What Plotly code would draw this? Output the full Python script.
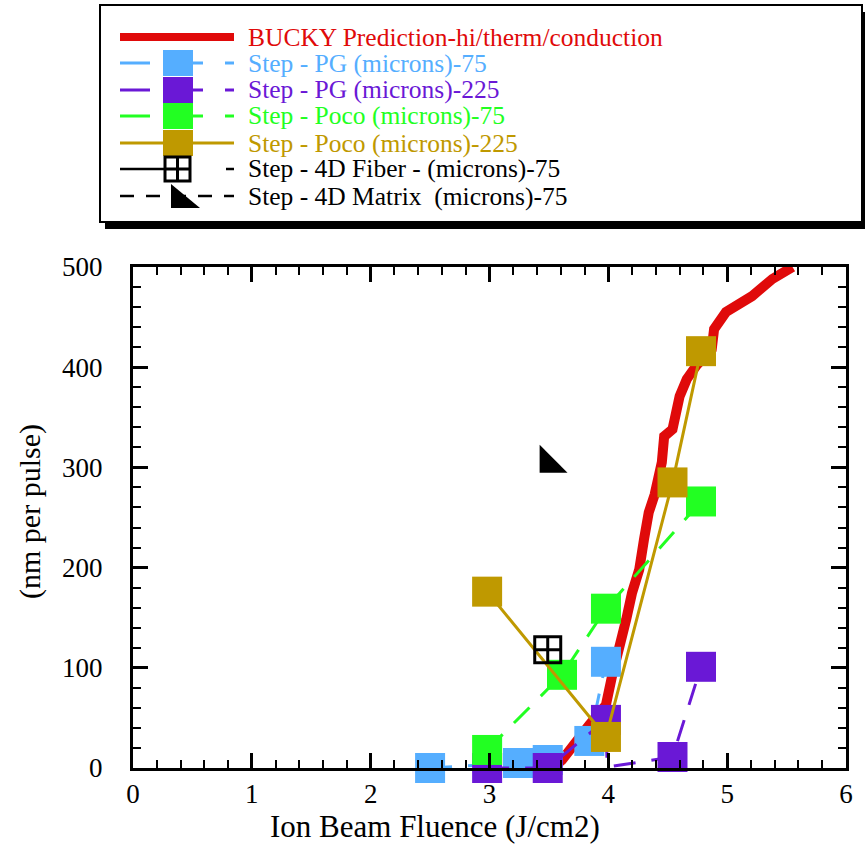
import plotly.graph_objects as go

# ---------------- data ----------------
bucky_x = [3.53, 3.61, 3.84, 3.98, 4.03, 4.09, 4.15, 4.20, 4.26, 4.30, 4.34, 4.39,
           4.45, 4.47, 4.54, 4.60, 4.66, 4.75, 4.87, 4.89, 4.99, 5.21, 5.38, 5.55]
bucky_y = [0, 8, 43, 63, 91, 125, 148, 175, 198, 228, 255, 273,
           305, 331, 338, 371, 388, 403, 418, 438, 455, 471, 488, 500]

pg75_x = [2.50, 3.24, 3.49, 3.84, 3.98]
pg75_y = [0, 5, 8, 27, 106]

pg225_x = [2.98, 3.49, 3.98, 4.54, 4.78]
pg225_y = [0, 0, 48, 11, 101]
pg225_line_x = [2.98, 3.49, 3.98, 3.99, 4.54, 4.78]
pg225_line_y = [0, 0, 48, 1, 11, 101]

poco75_x = [2.98, 3.61, 3.98, 4.78]
poco75_y = [18, 93, 159, 266]

poco225_x = [2.98, 3.98, 4.54, 4.78]
poco225_y = [176, 31, 285, 416]

fiber_x = [3.49]
fiber_y = [118]

matrix_x = [3.50]
matrix_y = [304]

legend_labels = [
    "BUCKY Prediction-hi/therm/conduction",
    "Step - PG (microns)-75",
    "Step - PG (microns)-225",
    "Step - Poco (microns)-75",
    "Step - Poco (microns)-225",
    "Step - 4D Fiber - (microns)-75",
    "Step - 4D Matrix  (microns)-75",
]

x_title = "Ion Beam Fluence (J/cm2)"
y_title = "(nm per pulse)"

# ---------------- style ----------------
W, H = 865, 845
FONT = "Liberation Serif"
RED = "#E00A0A"
BLUE = "#55AEFF"
PURPLE = "#6A18D6"
GREEN = "#22FF22"
GOLD = "#BF9900"
BLACK = "#000000"
COLORS = [RED, BLUE, PURPLE, GREEN, GOLD, BLACK, BLACK]

L, R, T, B = 133, 846, 267, 768  # plot area in pixels


def X(px):
    return px / W


def Y(py):
    return 1 - py / H


fig = go.Figure()

DASH = "22px,16px"
MS = 30

fig.add_trace(go.Scatter(x=bucky_x, y=bucky_y, mode="lines",
                         line=dict(color=RED, width=10), cliponaxis=True))
fig.add_trace(go.Scatter(x=pg75_x, y=pg75_y, mode="lines+markers",
                         line=dict(color=BLUE, width=3, dash=DASH),
                         marker=dict(symbol="square", size=MS, color=BLUE, line=dict(width=0)),
                         cliponaxis=False))
fig.add_trace(go.Scatter(x=pg225_line_x, y=pg225_line_y, mode="lines",
                         line=dict(color=PURPLE, width=3, dash=DASH), cliponaxis=False))
fig.add_trace(go.Scatter(x=pg225_x, y=pg225_y, mode="markers",
                         marker=dict(symbol="square", size=MS, color=PURPLE, line=dict(width=0)),
                         cliponaxis=False))
fig.add_trace(go.Scatter(x=poco75_x, y=poco75_y, mode="lines+markers",
                         line=dict(color=GREEN, width=3, dash=DASH),
                         marker=dict(symbol="square", size=MS, color=GREEN, line=dict(width=0)),
                         cliponaxis=False))
fig.add_trace(go.Scatter(x=poco225_x, y=poco225_y, mode="lines+markers",
                         line=dict(color=GOLD, width=3),
                         marker=dict(symbol="square", size=MS, color=GOLD, line=dict(width=0)),
                         cliponaxis=False))
fig.add_trace(go.Scatter(x=fiber_x, y=fiber_y, mode="markers",
                         marker=dict(symbol="square-cross-open", size=26, color=BLACK,
                                     line=dict(width=3, color=BLACK)),
                         cliponaxis=False))
fig.add_trace(go.Scatter(x=matrix_x, y=matrix_y, mode="markers",
                         marker=dict(symbol="triangle-sw", size=31, color=BLACK, line=dict(width=0)),
                         cliponaxis=False))

axis_common = dict(
    showgrid=False, zeroline=False, showline=True, linewidth=3, linecolor=BLACK,
    mirror="allticks", ticks="inside", ticklen=15, tickwidth=2.5, tickcolor=BLACK,
    tickfont=dict(family=FONT, size=27, color=BLACK), automargin=False,
)

fig.update_layout(
    template="none",
    width=W, height=H, autosize=False,
    margin=dict(l=0, r=0, t=0, b=0, pad=0),
    paper_bgcolor="white", plot_bgcolor="white",
    showlegend=False,
    xaxis=dict(range=[0, 6], domain=[X(L), X(R)], dtick=1, tick0=0,
               ticklabelstandoff=0,
               minor=dict(dtick=0.2, ticks="inside", ticklen=8, tickwidth=2, tickcolor=BLACK),
               **axis_common),
    yaxis=dict(range=[0, 500], domain=[Y(B), Y(T)], dtick=100, tick0=0,
               ticklabelstandoff=22,
               minor=dict(dtick=20, ticks="inside", ticklen=8, tickwidth=2, tickcolor=BLACK),
               **axis_common),
)

annotations = [
    dict(text=x_title, x=X(435), y=Y(826), xref="paper", yref="paper",
         showarrow=False, xanchor="center", yanchor="middle",
         font=dict(family=FONT, size=31, color=BLACK)),
    dict(text=y_title, x=X(30), y=Y(512), xref="paper", yref="paper",
         showarrow=False, xanchor="center", yanchor="middle", textangle=-90,
         font=dict(family=FONT, size=30, color=BLACK)),
]

shapes = []
# legend box with shadow
shapes.append(dict(type="rect", xref="paper", yref="paper",
                   x0=X(105), x1=X(868), y0=Y(229), y1=Y(12),
                   fillcolor=BLACK, line=dict(width=0)))
shapes.append(dict(type="rect", xref="paper", yref="paper",
                   x0=X(100), x1=X(862), y0=Y(222), y1=Y(5),
                   fillcolor="white", line=dict(width=2, color=BLACK)))

rows = [37, 63, 90, 116, 143, 169, 196]
LX0, LX1, MX = 120, 234, 178


def hline(x0, x1, y, color, width, dash="solid"):
    shapes.append(dict(type="line", xref="paper", yref="paper",
                       x0=X(x0), x1=X(x1), y0=Y(y), y1=Y(y),
                       line=dict(color=color, width=width, dash=dash)))


def sq(y, color):
    shapes.append(dict(type="rect", xref="paper", yref="paper",
                       x0=X(MX - 15), x1=X(MX + 15), y0=Y(y + 13), y1=Y(y - 13),
                       fillcolor=color, line=dict(width=0)))


# row 0: BUCKY
hline(LX0, LX1, rows[0], RED, 8)
# rows 1-3: dashed with square
for i, c in zip([1, 2, 3], [BLUE, PURPLE, GREEN]):
    hline(LX0, 203, rows[i], c, 3)
    hline(225, LX1, rows[i], c, 3)
    shapes.append(dict(type="rect", xref="paper", yref="paper",
                       x0=X(150), x1=X(163), y0=Y(rows[i] + 3), y1=Y(rows[i] - 3),
                       fillcolor="white", line=dict(width=0)))
    sq(rows[i], c)
# row 4: gold solid
hline(LX0, LX1, rows[4], GOLD, 3)
sq(rows[4], GOLD)
# row 5: fiber
hline(LX0, 165, rows[5], BLACK, 2.5)
hline(226, LX1, rows[5], BLACK, 2.5)
y5 = rows[5]
shapes.append(dict(type="rect", xref="paper", yref="paper",
                   x0=X(165), x1=X(190), y0=Y(y5 + 12), y1=Y(y5 - 12),
                   fillcolor="white", line=dict(width=3, color=BLACK)))
shapes.append(dict(type="line", xref="paper", yref="paper",
                   x0=X(177.5), x1=X(177.5), y0=Y(y5 + 12), y1=Y(y5 - 12),
                   line=dict(width=3, color=BLACK)))
shapes.append(dict(type="line", xref="paper", yref="paper",
                   x0=X(165), x1=X(190), y0=Y(y5), y1=Y(y5),
                   line=dict(width=3, color=BLACK)))
# row 6: matrix
y6 = rows[6]
hline(LX0, LX1, y6, BLACK, 2.5, dash="14px,12px")
shapes.append(dict(type="path", xref="paper", yref="paper",
                   path=f"M {X(171)},{Y(y6 - 12)} L {X(171)},{Y(y6 + 12)} L {X(200)},{Y(y6 + 12)} Z",
                   fillcolor=BLACK, line=dict(width=0)))

for lab, c, ry in zip(legend_labels, COLORS, rows):
    annotations.append(dict(text=lab, x=X(246), y=Y(ry), xref="paper", yref="paper",
                            showarrow=False, xanchor="left", yanchor="middle",
                            font=dict(family=FONT, size=25.5, color=c)))

fig.update_layout(shapes=shapes, annotations=annotations)

fig.write_html("out.html")
